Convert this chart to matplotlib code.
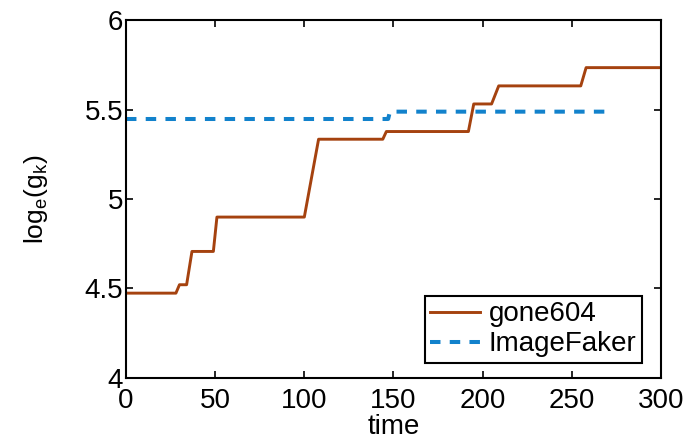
import matplotlib
matplotlib.use("Agg")
import matplotlib.pyplot as plt

matplotlib.rcParams['font.family'] = 'Liberation Sans'
matplotlib.rcParams['mathtext.fontset'] = 'custom'
matplotlib.rcParams['mathtext.rm'] = 'Liberation Sans'
matplotlib.rcParams['mathtext.it'] = 'Liberation Sans:italic'

# step curve of gone604
gone_x = [0, 28, 30, 34, 37, 49, 51, 100, 108, 144, 146, 192, 195, 205, 209, 255, 258, 300]
gone_y = [4.474, 4.474, 4.521, 4.521, 4.707, 4.707, 4.899, 4.899, 5.334, 5.334,
          5.377, 5.377, 5.531, 5.531, 5.632, 5.632, 5.734, 5.734]

# ImageFaker
fake_x = [0, 147, 148, 273]
fake_y = [5.447, 5.447, 5.488, 5.488]

xticks = [0, 50, 100, 150, 200, 250, 300]
yticks = [4, 4.5, 5, 5.5, 6]

fig = plt.figure(figsize=(6.91, 4.41), dpi=100)
ax = fig.add_axes([0.1823, 0.1429, 0.7743, 0.8117])

ax.plot(gone_x, gone_y, color="#A5420F", lw=2.1, label="gone604")
ax.plot(fake_x, fake_y, color="#1282CC", lw=2.9, dashes=(2.6, 2.3),
        dash_capstyle="butt", label="ImageFaker")

ax.set_xlim(0, 300)
ax.set_ylim(4, 6)
ax.set_xticks(xticks)
ax.set_yticks(yticks)
ax.set_yticklabels(["4", "4.5", "5", "5.5", "6"])
ax.tick_params(direction="in", top=True, right=True, length=5, width=1.2,
               labelsize=20, pad=2)
ax.tick_params(axis="x", pad=7)
for s in ax.spines.values():
    s.set_linewidth(1.5)

ax.set_xlabel("time", fontsize=20, labelpad=0)
ax.set_ylabel(r"$\mathrm{log_e(g_k)}$", fontsize=19, labelpad=25)

leg = ax.legend(loc="lower right", bbox_to_anchor=(0.964, 0.042), borderaxespad=0,
                fontsize=20, handlelength=1.8, handletextpad=0.3, labelspacing=0.15,
                borderpad=0.2, fancybox=False, framealpha=1)
leg.get_frame().set_edgecolor("black")
leg.get_frame().set_linewidth(1.5)

fig.savefig("out.png", dpi=100)
